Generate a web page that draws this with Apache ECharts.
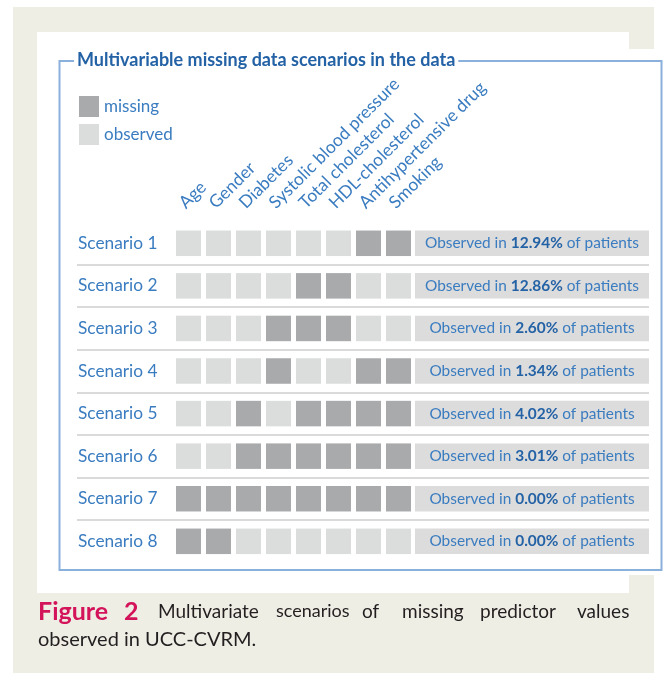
<!DOCTYPE html>
<html>
<head>
<meta charset="utf-8">
<script src="https://cdn.jsdelivr.net/npm/echarts@6/dist/echarts.min.js"></script>
<style>
html,body{margin:0;padding:0;background:#fff;}
#chart{width:666px;height:673px;}
</style>
</head>
<body>
<div id="chart"></div>
<script>
// ---- data ----
const variables = ['Age', 'Gender', 'Diabetes', 'Systolic blood pressure', 'Total cholesterol', 'HDL-cholesterol', 'Antihypertensive drug', 'Smoking'];
const scenarios = ['Scenario 1', 'Scenario 2', 'Scenario 3', 'Scenario 4', 'Scenario 5', 'Scenario 6', 'Scenario 7', 'Scenario 8'];
// 1 = missing, 0 = observed (columns follow `variables`)
const scenario1 = [0, 0, 0, 0, 0, 0, 1, 1];
const scenario2 = [0, 0, 0, 0, 1, 1, 0, 0];
const scenario3 = [0, 0, 0, 1, 1, 1, 0, 0];
const scenario4 = [0, 0, 0, 1, 0, 0, 1, 1];
const scenario5 = [0, 0, 1, 0, 1, 1, 1, 1];
const scenario6 = [0, 0, 1, 1, 1, 1, 1, 1];
const scenario7 = [1, 1, 1, 1, 1, 1, 1, 1];
const scenario8 = [1, 1, 0, 0, 0, 0, 0, 0];
const observedPercent = [12.94, 12.86, 2.60, 1.34, 4.02, 3.01, 0.00, 0.00];
const legendNames = ['missing', 'observed'];

const patterns = [scenario1, scenario2, scenario3, scenario4, scenario5, scenario6, scenario7, scenario8];
const missingPts = [], observedPts = [];
patterns.forEach((row, yi) => row.forEach((v, xi) => {
  (v === 1 ? missingPts : observedPts).push([xi, yi]);
}));
const pctPts = observedPercent.map((p, i) => [0, i, p]);

const FONT = 'Lato';
const BLUE = '#3a7cc0';
const DARKBLUE = '#2462a6';
const GRID_TOP = 222, GRID_H = 340.6;
const CAP = '#231f20';

const chart = echarts.init(document.getElementById('chart'), null, {renderer: 'canvas'});
chart.setOption({
  backgroundColor: '#ffffff',
  animation: false,
  textStyle: {fontFamily: FONT},
  title: {
    text: 'Multivariable missing data scenarios in the data',
    left: 74, top: 49,
    padding: [0, 3, 0, 3],
    backgroundColor: '#ffffff',
    textStyle: {fontFamily: FONT, fontSize: 18, fontWeight: 'bold', color: DARKBLUE, lineHeight: 22}
  },
  legend: {
    data: legendNames,
    orient: 'vertical',
    left: 79, top: 96,
    itemWidth: 20, itemHeight: 21, itemGap: 7,
    icon: 'rect',
    padding: 0,
    textStyle: {fontFamily: FONT, fontSize: 17, color: BLUE},
    selectedMode: false
  },
  grid: [
    {left: 77, width: 572, top: GRID_TOP, height: GRID_H},
    {left: 173.5, width: 240, top: GRID_TOP, height: GRID_H},
    {left: 415, width: 234, top: GRID_TOP, height: GRID_H}
  ],
  xAxis: [
    {gridIndex: 0, type: 'value', show: false},
    {gridIndex: 1, type: 'category', data: variables, position: 'top',
     axisLine: {show: false}, axisTick: {show: false}, splitLine: {show: false},
     axisLabel: {interval: 0, rotate: -45, verticalAlign: 'bottom', margin: 10,
                 fontFamily: FONT, fontSize: 17.5, color: BLUE}},
    {gridIndex: 2, type: 'category', data: ['pct'], show: false}
  ],
  yAxis: [
    {gridIndex: 0, type: 'category', data: scenarios, inverse: true,
     axisLine: {show: false}, axisTick: {show: false},
     axisLabel: {align: 'left', margin: -1, fontFamily: FONT, fontSize: 17.3, color: BLUE},
     splitLine: {show: true, showMinLine: false, showMaxLine: false,
                 lineStyle: {color: '#dadada', width: 2}}},
    {gridIndex: 1, type: 'category', data: scenarios, inverse: true, show: false},
    {gridIndex: 2, type: 'category', data: scenarios, inverse: true, show: false}
  ],
  series: [
    {name: 'missing', type: 'scatter', xAxisIndex: 1, yAxisIndex: 1,
     symbol: 'rect', symbolSize: [25, 25.5], data: missingPts,
     itemStyle: {color: '#a9aaac', opacity: 1}, silent: true},
    {name: 'observed', type: 'scatter', xAxisIndex: 1, yAxisIndex: 1,
     symbol: 'rect', symbolSize: [25, 25.5], data: observedPts,
     itemStyle: {color: '#dbdcdc', opacity: 1}, silent: true},
    {name: 'percent', type: 'scatter', xAxisIndex: 2, yAxisIndex: 2,
     symbol: 'rect', symbolSize: [234, 25.5], data: pctPts,
     itemStyle: {color: '#dcdcdc', opacity: 1}, silent: true,
     label: {show: true, position: 'inside',
       formatter: p => '{a|Observed in }{b|' + p.value[2].toFixed(2) + '%}{a| of patients}',
       rich: {
         a: {fontFamily: FONT, fontSize: 15.4, color: BLUE},
         b: {fontFamily: FONT, fontSize: 15.4, fontWeight: 'bold', color: DARKBLUE}
       }}}
  ],
  graphic: [
    {type: 'rect', z: -10, silent: true, shape: {x: 13, y: 7, width: 641, height: 666}, style: {fill: '#efeee5'}},
    {type: 'rect', z: -9, silent: true, shape: {x: 37, y: 32, width: 592, height: 561}, style: {fill: '#ffffff'}},
    {type: 'rect', z: -9, silent: true, shape: {x: 37, y: 49, width: 629, height: 526}, style: {fill: '#ffffff'}},
    {type: 'rect', z: -5, silent: true, shape: {x: 59.5, y: 61, width: 602, height: 509}, style: {fill: null, stroke: '#8ab0dc', lineWidth: 2}},
    {type: 'text', silent: true, left: 38, top: 599, style: {text: 'Figure', font: 'bold 25px Lato', fill: '#d4145a'}},
    {type: 'text', silent: true, left: 124, top: 599, style: {text: '2', font: 'bold 25px Lato', fill: '#d4145a'}},
    {type: 'text', silent: true, left: 158, top: 602, style: {text: 'Multivariate', font: '19px Lato', fill: CAP}},
    {type: 'text', silent: true, left: 276, top: 602, style: {text: 'scenarios', font: '18px Lato', fill: CAP}},
    {type: 'text', silent: true, left: 362, top: 602, style: {text: 'of', font: '19px Lato', fill: CAP}},
    {type: 'text', silent: true, left: 402, top: 602, style: {text: 'missing', font: '19px Lato', fill: CAP}},
    {type: 'text', silent: true, left: 480, top: 602, style: {text: 'predictor', font: '19px Lato', fill: CAP}},
    {type: 'text', silent: true, left: 577, top: 602, style: {text: 'values', font: '19px Lato', fill: CAP}},
    {type: 'text', silent: true, left: 38, top: 630, style: {text: 'observed in UCC-CVRM.', font: '20px Lato', fill: CAP}}
  ]
});
</script>
</body>
</html>
